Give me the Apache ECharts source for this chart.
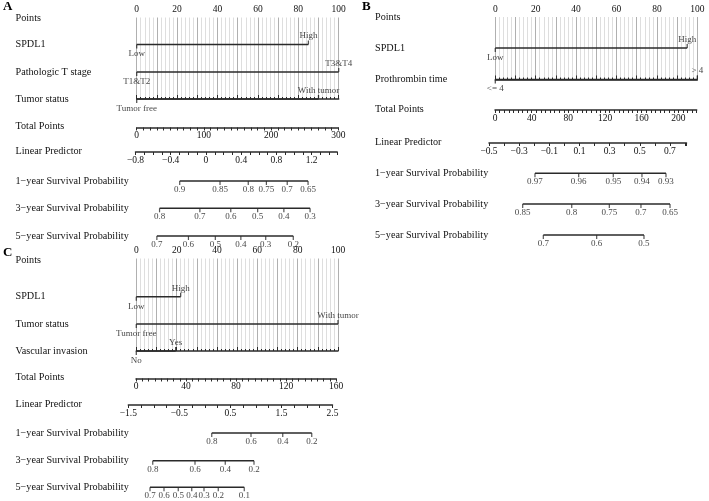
<!DOCTYPE html>
<html><head><meta charset="utf-8">
<script src="https://cdn.jsdelivr.net/npm/echarts@6/dist/echarts.min.js"></script>
<style>html,body{margin:0;padding:0;background:#fff}#c{width:709px;height:501px}</style>
</head><body><div id="c"></div><script>
// ===================== DATA =====================
const pointsTickLabels = [0, 20, 40, 60, 80, 100];

// Panel A
const A_vars = ['SPDL1', 'Pathologic T stage', 'Tumor status'];
const A_low = ['Low', 'T1&T2', 'Tumor free'];
const A_high = ['High', 'T3&T4', 'With tumor'];
const A_highPoints = [85, 100, 90];
const A_totalRange = [0, 300];
const A_totalLabels = [0, 100, 200, 300];
const A_lpRange = [-0.8, 1.49];
const A_lpLabels = [-0.8, -0.4, 0, 0.4, 0.8, 1.2];
const A_p1 = [0.9, 0.85, 0.8, 0.75, 0.7, 0.65];
const A_p1Total = [64, 124, 166, 193, 224, 255];
const A_p3 = [0.8, 0.7, 0.6, 0.5, 0.4, 0.3];
const A_p3Total = [34, 94, 140, 180, 219, 258];
const A_p5 = [0.7, 0.6, 0.5, 0.4, 0.3, 0.2];
const A_p5Total = [30, 77, 117, 155, 192, 233];

// Panel B
const B_vars = ['SPDL1', 'Prothrombin time'];
const B_low = ['Low', '<= 4'];
const B_high = ['High', '> 4'];
const B_highPoints = [95, 100];
const B_totalRange = [0, 220];
const B_totalLabels = [0, 40, 80, 120, 160, 200];
const B_lpRange = [-0.5, 0.81];
const B_lpLabels = [-0.5, -0.3, -0.1, 0.1, 0.3, 0.5, 0.7];
const B_p1 = [0.97, 0.96, 0.95, 0.94, 0.93];
const B_p1Total = [43.6, 91.3, 129, 160.3, 186.5];
const B_p3 = [0.85, 0.8, 0.75, 0.7, 0.65];
const B_p3Total = [30.2, 83.7, 124.7, 159.2, 190.9];
const B_p5 = [0.7, 0.6, 0.5];
const B_p5Total = [52.7, 110.9, 162.5];

// Panel C
const C_vars = ['SPDL1', 'Tumor status', 'Vascular invasion'];
const C_low = ['Low', 'Tumor free', 'No'];
const C_high = ['High', 'With tumor', 'Yes'];
const C_highPoints = [22, 100, 19.5];
const C_totalRange = [0, 160];
const C_totalLabels = [0, 40, 80, 120, 160];
const C_lpRange = [-1.5, 2.5];
const C_lpLabels = [-1.5, -0.5, 0.5, 1.5, 2.5];
const C_p1 = [0.8, 0.6, 0.4, 0.2];
const C_p1Total = [60.6, 92, 117.4, 140.6];
const C_p3 = [0.8, 0.6, 0.4, 0.2];
const C_p3Total = [13.4, 47.2, 71.4, 94.4];
const C_p5 = [0.7, 0.6, 0.5, 0.4, 0.3, 0.2, 0.1];
const C_p5Total = [11.2, 22.4, 33.8, 44.6, 54.4, 65.8, 86.6];

const probNames = ['1\u2212year Survival Probability', '3\u2212year Survival Probability', '5\u2212year Survival Probability'];

// ===================== LAYOUT / STYLE =====================
const FONT = '"Liberation Serif","Times New Roman",serif';
const TXT = '#111';
const LINE = '#2a2a2a';
const grids = [], xAxis = [], yAxis = [], series = [];

function fmtNum(v) { return String(+v.toFixed(4)).replace('-', '\u2212'); }
function inList(list, v) { return list.some(l => Math.abs(l - v) < 1e-6); }

function addGrid(left, width, top, height) {
  grids.push({ left: left, width: width, top: top, height: height, containLabel: false });
  return grids.length - 1;
}
function catAxis(gi, name, lay, L) {
  return { type: 'category', gridIndex: gi, data: [name], boundaryGap: true,
    axisLine: { show: false }, axisTick: { show: false }, splitLine: { show: false },
    axisLabel: { show: true, align: 'left', margin: L - lay.labelX, fontFamily: FONT, fontSize: 10.2, color: TXT } };
}
function hiddenX(gi, min, max) {
  return { type: 'value', gridIndex: gi, min: min, max: max, show: false, splitLine: { show: false } };
}

function buildPanel(lay, d) {
  const lastY = lay.yVars[lay.yVars.length - 1];
  // Points axis with vertical guide lines
  let gi = addGrid(lay.ptsL, lay.ptsW, lay.yPts, lastY - lay.yPts);
  xAxis.push({ type: 'value', gridIndex: gi, position: 'top', min: 0, max: 100, interval: 10,
    axisLine: { show: true, lineStyle: { color: LINE, width: 1.5 } },
    axisTick: { show: true, length: 4, lineStyle: { color: LINE, width: 1 } },
    minorTick: { show: true, splitNumber: 5, length: 2, lineStyle: { color: LINE, width: 1 } },
    axisLabel: { margin: 3, fontFamily: FONT, fontSize: 9.5, color: TXT,
      formatter: v => inList(pointsTickLabels, v) ? fmtNum(v) : '' },
    splitLine: { show: true, lineStyle: { color: '#b0b0b0', width: 1 } },
    minorSplitLine: { show: true, lineStyle: { color: '#dedede', width: 1 } } });
  yAxis.push({ type: 'value', gridIndex: gi, show: false, min: 0, max: 1 });

  // "Points" row label
  gi = addGrid(lay.ptsL, lay.ptsW, lay.yPts - 1 + lay.lblDy, 2);
  xAxis.push(hiddenX(gi, 0, 100));
  yAxis.push(catAxis(gi, 'Points', lay, lay.ptsL));

  // variable rows
  d.vars.forEach((name, i) => {
    const y = lay.yVars[i];
    const g = addGrid(lay.ptsL, lay.ptsW, y - 1, 2);
    xAxis.push(hiddenX(g, 0, 100));
    yAxis.push(catAxis(g, name, lay, lay.ptsL));
    series.push({ type: 'line', xAxisIndex: g, yAxisIndex: g, clip: false, silent: true, symbol: 'none',
      lineStyle: { color: LINE, width: 1.6 }, data: [[0, 0], [d.highPoints[i], 0]] });
    series.push({ type: 'scatter', xAxisIndex: g, yAxisIndex: g, clip: false, silent: true,
      symbol: 'rect', symbolSize: [1.3, 4], itemStyle: { color: LINE },
      label: { show: true, formatter: '{b}', fontFamily: FONT, fontSize: 9, color: TXT, distance: 1 },
      data: [
        { name: d.low[i], value: [0, 0], symbolOffset: [0, 2], label: { position: 'bottom' } },
        { name: d.high[i], value: [d.highPoints[i], 0], symbolOffset: [0, -2], label: { position: 'top', distance: 0 } }
      ] });
  });

  // Total points axis
  gi = addGrid(lay.totL, lay.totW, lay.yTot - 2, 2);
  xAxis.push({ type: 'value', gridIndex: gi, position: 'bottom', min: d.totalRange[0], max: d.totalRange[1], interval: lay.totInt,
    axisLine: { show: true, lineStyle: { color: LINE, width: 1.5 } },
    axisTick: { show: true, length: 3, lineStyle: { color: LINE, width: 1 } },
    axisLabel: { margin: 3, fontFamily: FONT, fontSize: 9.5, color: TXT,
      formatter: v => inList(d.totalLabels, v) ? fmtNum(v) : '' },
    splitLine: { show: false } });
  yAxis.push(catAxis(gi, 'Total Points', lay, lay.totL));

  // Linear predictor axis
  gi = addGrid(lay.lpL, lay.lpW, lay.yLp - 2, 2);
  xAxis.push({ type: 'value', gridIndex: gi, position: 'bottom', min: d.lpRange[0], max: d.lpRange[1], interval: lay.lpInt,
    axisLine: { show: true, lineStyle: { color: LINE, width: 1.5 } },
    axisTick: { show: true, length: 3, lineStyle: { color: LINE, width: 1 } },
    axisLabel: { margin: 3, fontFamily: FONT, fontSize: 9.5, color: TXT,
      formatter: v => inList(d.lpLabels, v) ? fmtNum(v) : '' },
    splitLine: { show: false } });
  yAxis.push(catAxis(gi, 'Linear Predictor', lay, lay.lpL));

  // survival probability axes
  d.probs.forEach((pr, k) => {
    const tot = d.probTotals[k];
    const y = lay.yP[k];
    const g = addGrid(lay.totL, lay.totW, y - 1, 2);
    xAxis.push(hiddenX(g, d.totalRange[0], d.totalRange[1]));
    yAxis.push(catAxis(g, probNames[k], lay, lay.totL));
    series.push({ type: 'line', xAxisIndex: g, yAxisIndex: g, clip: false, silent: true, symbol: 'none',
      lineStyle: { color: LINE, width: 1.5 }, data: [[tot[0], 0], [tot[tot.length - 1], 0]] });
    series.push({ type: 'scatter', xAxisIndex: g, yAxisIndex: g, clip: false, silent: true,
      symbol: 'rect', symbolSize: [1.2, 4], symbolOffset: [0, 2], itemStyle: { color: LINE },
      label: { show: true, position: 'bottom', distance: 0, formatter: '{b}', fontFamily: FONT, fontSize: 9, color: TXT },
      data: tot.map((t, i) => ({ name: String(pr[i]), value: [t, 0] })) });
  });
}

buildPanel(
  { labelX: 15.5, lblDy: 0.5, ptsL: 136.7, ptsW: 202, totL: 136.7, totW: 201.6, lpL: 135.5, lpW: 201.7,
    yPts: 17.5, yVars: [44.5, 72, 99], yTot: 127.5, yLp: 152, yP: [181, 208.3, 236], totInt: 10, lpInt: 0.1 },
  { vars: A_vars, low: A_low, high: A_high, highPoints: A_highPoints, totalRange: A_totalRange, totalLabels: A_totalLabels,
    lpRange: A_lpRange, lpLabels: A_lpLabels, probs: [A_p1, A_p3, A_p5], probTotals: [A_p1Total, A_p3Total, A_p5Total] });

buildPanel(
  { labelX: 375, lblDy: 0.5, ptsL: 495.3, ptsW: 202, totL: 495, totW: 201.7, lpL: 489, lpW: 197.5,
    yPts: 17, yVars: [48, 79.5], yTot: 110, yLp: 143, yP: [173.3, 204, 235], totInt: 5, lpInt: 0.1 },
  { vars: B_vars, low: B_low, high: B_high, highPoints: B_highPoints, totalRange: B_totalRange, totalLabels: B_totalLabels,
    lpRange: B_lpRange, lpLabels: B_lpLabels, probs: [B_p1, B_p3, B_p5], probTotals: [B_p1Total, B_p3Total, B_p5Total] });

buildPanel(
  { labelX: 15.5, lblDy: 2, ptsL: 136.3, ptsW: 201.7, totL: 136, totW: 200, lpL: 128.3, lpW: 204.2,
    yPts: 258.5, yVars: [296.7, 324, 351], yTot: 378.5, yLp: 405, yP: [433, 460.7, 487.3], totInt: 5, lpInt: 0.25 },
  { vars: C_vars, low: C_low, high: C_high, highPoints: C_highPoints, totalRange: C_totalRange, totalLabels: C_totalLabels,
    lpRange: C_lpRange, lpLabels: C_lpLabels, probs: [C_p1, C_p3, C_p5], probTotals: [C_p1Total, C_p3Total, C_p5Total] });

const letterStyle = { fontFamily: FONT, fontWeight: 'bold', fontSize: 13, color: '#000' };
const option = {
  animation: false,
  backgroundColor: '#fff',
  title: [
    { text: 'A', left: 3, top: 0, padding: 0, textStyle: letterStyle },
    { text: 'B', left: 362, top: 0, padding: 0, textStyle: letterStyle },
    { text: 'C', left: 3, top: 246, padding: 0, textStyle: letterStyle }
  ],
  grid: grids, xAxis: xAxis, yAxis: yAxis, series: series
};
const chart = echarts.init(document.getElementById('c'), null, { renderer: 'canvas' });
chart.setOption(option);
</script></body></html>
